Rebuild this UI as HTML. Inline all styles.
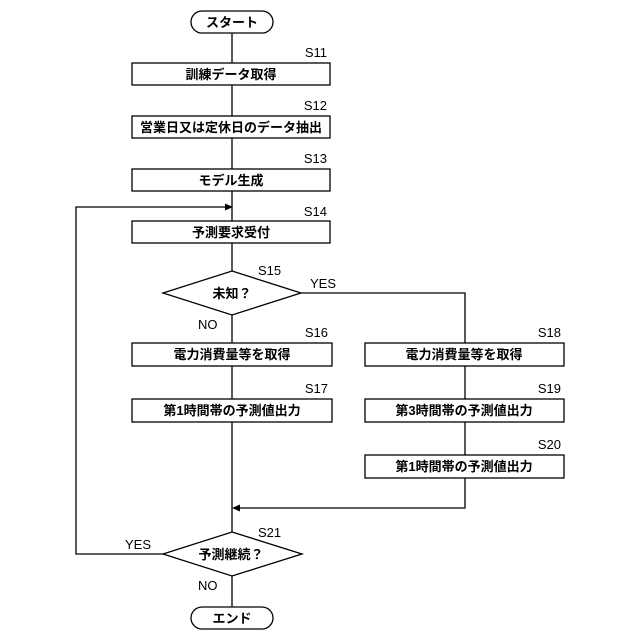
<!DOCTYPE html>
<html><head><meta charset="utf-8"><style>body{margin:0;background:#fff}svg{display:block}text{font-family:"Liberation Sans","Noto Sans CJK JP",sans-serif;fill:#000}</style></head><body>
<svg width="640" height="640" viewBox="0 0 640 640" xmlns="http://www.w3.org/2000/svg">
<g stroke="#000" stroke-width="1.3" fill="none">
<rect x="191" y="11" width="82" height="22" rx="11"/>
<line x1="232" y1="33" x2="232" y2="271"/>
<rect x="132" y="63" width="198" height="22" fill="#fff"/>
<rect x="132" y="116" width="198" height="22" fill="#fff"/>
<rect x="132" y="169" width="198" height="22" fill="#fff"/>
<rect x="132" y="221" width="198" height="22" fill="#fff"/>
<polygon points="232,271 301,293 232,315 163,293" fill="#fff"/>
<polyline points="301,293 465,293 465,343"/>
<line x1="232" y1="315" x2="232" y2="532"/>
<rect x="132" y="343" width="200" height="23" fill="#fff"/>
<rect x="132" y="399" width="200" height="23" fill="#fff"/>
<line x1="465" y1="366" x2="465" y2="455"/>
<rect x="365" y="343" width="199" height="23" fill="#fff"/>
<rect x="365" y="399" width="199" height="23" fill="#fff"/>
<rect x="365" y="455" width="199" height="23" fill="#fff"/>
<polyline points="465,478 465,508 238,508"/>
<polygon points="232,554 302,532+0" stroke="none"/>
<polygon points="232,532 302,554 232,576 163,554" fill="#fff"/>
<polyline points="163,554 76,554 76,207 226,207"/>
<line x1="232" y1="576" x2="232" y2="607"/>
<rect x="191" y="607" width="82" height="22" rx="11"/>
</g>
<polygon points="233,207 225,203.5 225,210.5" fill="#000"/>
<polygon points="232,508 240,504.5 240,511.5" fill="#000"/>
<g font-size="13" font-weight="bold" text-anchor="middle">
<text x="232" y="27">スタート</text>
<text x="231" y="79">訓練データ取得</text>
<text x="231" y="132">営業日又は定休日のデータ抽出</text>
<text x="231" y="185">モデル生成</text>
<text x="231" y="237">予測要求受付</text>
<text x="232" y="298">未知？</text>
<text x="232" y="359">電力消費量等を取得</text>
<text x="232" y="415">第1時間帯の予測値出力</text>
<text x="464" y="359">電力消費量等を取得</text>
<text x="464" y="415">第3時間帯の予測値出力</text>
<text x="464" y="471">第1時間帯の予測値出力</text>
<text x="231" y="559">予測継続？</text>
<text x="232" y="623">エンド</text>
</g>
<g font-size="13">
<text x="327" y="57" text-anchor="end">S11</text>
<text x="327" y="110" text-anchor="end">S12</text>
<text x="327" y="163" text-anchor="end">S13</text>
<text x="327" y="216" text-anchor="end">S14</text>
<text x="258" y="275">S15</text>
<text x="310" y="288">YES</text>
<text x="198" y="329">NO</text>
<text x="328" y="337" text-anchor="end">S16</text>
<text x="328" y="393" text-anchor="end">S17</text>
<text x="561" y="337" text-anchor="end">S18</text>
<text x="561" y="393" text-anchor="end">S19</text>
<text x="561" y="449" text-anchor="end">S20</text>
<text x="258" y="537">S21</text>
<text x="125" y="549">YES</text>
<text x="198" y="590">NO</text>
</g>
</svg>
</body></html>
